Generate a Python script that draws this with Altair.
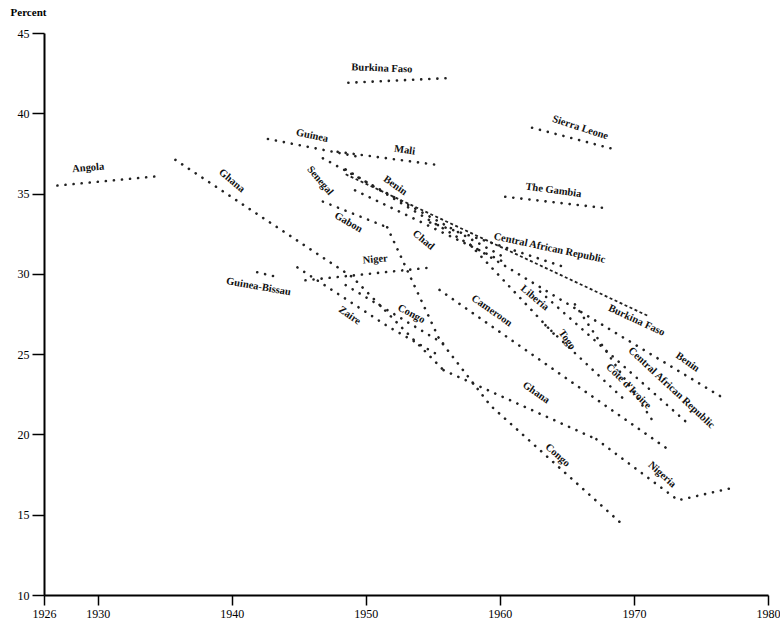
import altair as alt
import pandas as pd

# ---- data (year, percent) ----
series_names = [
    "Angola", "Burkina Faso A", "Sierra Leone", "The Gambia", "Guinea", "Mali",
    "Ghana A", "Ghana B", "Nigeria", "Congo B", "Zaire", "Congo A", "Niger",
    "Guinea-Bissau", "Gabon", "Senegal", "Benin", "Chad", "CAR A", "CAR B",
    "Liberia", "Togo", "Cote d'Ivoire", "Cameroon",
]
series_years = [
    [1927.0, 1934.7], [1948.7, 1956.4], [1962.4, 1968.8], [1960.4, 1967.8],
    [1942.7, 1949.4], [1947.9, 1955.2], [1935.8, 1949.0, 1955.8], [1955.8, 1967.2],
    [1967.2, 1973.3, 1977.5], [1951.6, 1955.5, 1959.3, 1969.0], [1944.9, 1951.7, 1955.5],
    [1948.5, 1955.9], [1945.5, 1954.9], [1941.9, 1943.4], [1946.8, 1951.6],
    [1946.8, 1960.4], [1948.5, 1976.6], [1949.2, 1960.4], [1954.8, 1964.9],
    [1963.0, 1974.0], [1957.8, 1964.1], [1963.4, 1969.5], [1965.6, 1971.6],
    [1955.5, 1972.5],
]
series_values = [
    [35.5, 36.1], [41.9, 42.2], [39.1, 37.7], [34.8, 34.1],
    [38.4, 37.3], [37.6, 36.8], [37.1, 29.8, 24.0], [24.0, 19.7],
    [19.7, 15.9, 16.7], [32.9, 25.9, 21.8, 14.5], [30.4, 26.7, 24.9],
    [29.3, 25.6], [29.6, 30.4], [30.1, 29.8], [34.5, 32.9],
    [37.2, 31.0], [36.5, 22.3], [35.2, 30.7], [33.2, 30.4],
    [28.9, 20.7], [31.8, 26.2], [26.8, 22.0], [28.1, 20.6],
    [29.0, 19.1],
]
# densely dotted series (Burkina Faso, later estimate)
dense_years = [1948.5, 1971.0]
dense_values = [36.2, 27.4]

label_texts = [
    "Angola", "Ghana", "Burkina Faso", "Guinea", "Mali", "Senegal", "Benin",
    "Gabon", "Chad", "Niger", "Guinea-Bissau", "Zaire", "Congo", "Sierra Leone",
    "The Gambia", "Central African Republic", "Liberia", "Cameroon", "Togo",
    "Burkina Faso", "Benin", "Central African Republic", "Côte d'Ivoire",
    "Ghana", "Congo", "Nigeria",
]
label_years = [
    1929.3, 1940.0, 1951.2, 1946.0, 1952.9, 1946.6, 1952.2,
    1948.7, 1954.3, 1950.7, 1942.0, 1948.8, 1953.4, 1966.0,
    1964.0, 1963.7, 1962.6, 1959.4, 1965.0,
    1970.2, 1974.0, 1972.8, 1969.6,
    1962.7, 1964.3, 1972.1,
]
label_values = [
    36.6, 35.8, 42.8, 38.6, 37.7, 35.8, 35.5,
    33.2, 32.1, 30.9, 29.2, 27.4, 27.5, 39.1,
    35.2, 31.6, 28.5, 27.7, 25.9,
    27.1, 24.5, 22.9, 23.0,
    22.6, 18.7, 17.5,
]
label_angles = [
    355, 40, 2, 12, 8, 50, 35,
    30, 40, 355, 10, 35, 28, 18,
    8, 12, 40, 35, 55,
    25, 35, 43, 45,
    35, 42, 42,
]

x_ticks = [1926, 1930, 1940, 1950, 1960, 1970, 1980]
y_ticks = [10, 15, 20, 25, 30, 35, 40, 45]

# ---- build tables ----
rows = []
for name, yrs, vals in zip(series_names, series_years, series_values):
    for i, (yr, v) in enumerate(zip(yrs, vals)):
        rows.append({"series": name, "order": i, "year": yr, "pct": v})
lines_df = pd.DataFrame(rows)
dense_df = pd.DataFrame({"series": "Burkina Faso B", "order": range(len(dense_years)),
                         "year": dense_years, "pct": dense_values})
labels_df = pd.DataFrame({"text": label_texts, "year": label_years,
                          "pct": label_values, "angle": label_angles})

FONT = "Liberation Serif"

x_enc = alt.X("year:Q",
              scale=alt.Scale(domain=[1926, 1980], nice=False, zero=False),
              axis=alt.Axis(values=x_ticks, format="d", title=None, grid=False,
                            domainColor="black", domainWidth=2, tickColor="black",
                            tickWidth=1.5, tickSize=10, labelFont=FONT, labelFontSize=12,
                            labelColor="black", labelPadding=3, labelFlush=False))
y_enc = alt.Y("pct:Q",
              scale=alt.Scale(domain=[10, 45], nice=False, zero=False),
              axis=alt.Axis(values=y_ticks, format="d", title="Percent", grid=False,
                            domainColor="black", domainWidth=2, tickColor="black",
                            tickWidth=1.5, tickSize=12, labelFont=FONT, labelFontSize=12,
                            labelColor="black", labelPadding=3,
                            titleAngle=0, titleX=-16, titleY=-21, titleAlign="center",
                            titleBaseline="middle", titleFont=FONT, titleFontSize=11,
                            titleFontWeight="bold", titleColor="black"))

dotted = alt.Chart(lines_df).mark_line(
    strokeDash=[0.1, 8], strokeCap="round", strokeWidth=2.6, color="#222"
).encode(x=x_enc, y=y_enc, detail="series:N", order="order:Q")

dense = alt.Chart(dense_df).mark_line(
    strokeDash=[3, 2.5], strokeWidth=1.8, color="#222"
).encode(x="year:Q", y="pct:Q", detail="series:N", order="order:Q")

labels = alt.Chart(labels_df).mark_text(
    font=FONT, fontSize=10.5, fontWeight="bold", color="#111"
).encode(x="year:Q", y="pct:Q", text="text:N",
         angle=alt.Angle("angle:Q", scale=None))

chart = alt.layer(dotted, dense, labels).properties(
    width=724, height=562,
    padding={"left": 44, "top": 33, "right": 12, "bottom": 36},
    autosize=alt.AutoSizeParams(type="none"),
    background="white",
).configure_view(stroke=None)

chart.save("out.html", embed_options={"renderer": "svg", "actions": False})
